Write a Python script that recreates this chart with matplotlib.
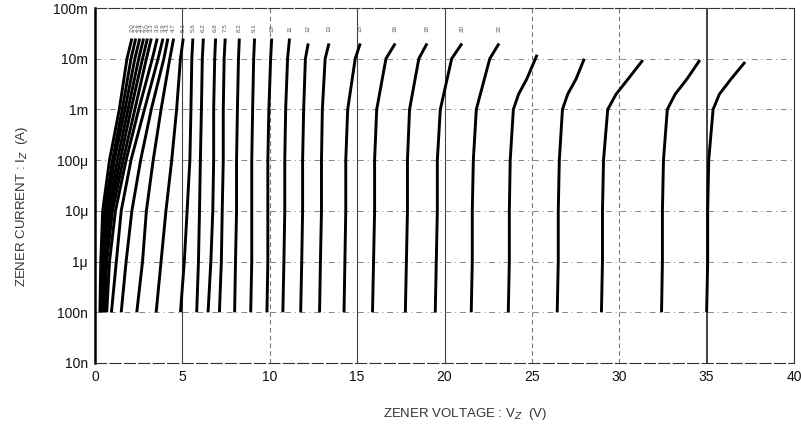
import matplotlib.pyplot as plt
import numpy as np

plt.rcParams['font.family'] = ['Liberation Sans', 'DejaVu Sans']

# nominal zener voltages (curve labels)
low_names = ['2.0', '2.2', '2.4', '2.7', '3.0', '3.3', '3.6', '3.9', '4.3', '4.7',
             '5.1', '5.6', '6.2', '6.8', '7.5', '8.2', '9.1', '10', '11', '12',
             '13', '15', '16', '18', '20', '22']
high_names = ['24', '27', '30', '33', '36']

# current levels (A) where voltage was read
low_levels = [1e-7, 1e-6, 1e-5, 1e-4, 1e-3, 1e-2]
high_levels = [1e-7, 1e-6, 1e-5, 1e-4, 1e-3, 2e-3, 4e-3]

# voltage read at each level, one row per curve
low_volts = [
    [0.28, 0.33, 0.44, 0.83, 1.39, 1.83],
    [0.33, 0.39, 0.56, 1.00, 1.56, 2.06],
    [0.39, 0.44, 0.67, 1.11, 1.72, 2.28],
    [0.44, 0.50, 0.78, 1.28, 1.89, 2.50],
    [0.50, 0.61, 0.89, 1.44, 2.06, 2.72],
    [0.56, 0.67, 1.00, 1.61, 2.28, 2.94],
    [0.67, 0.83, 1.17, 1.78, 2.50, 3.28],
    [0.94, 1.22, 1.50, 2.06, 2.83, 3.61],
    [1.50, 1.78, 2.11, 2.61, 3.22, 3.94],
    [2.39, 2.72, 2.94, 3.33, 3.78, 4.28],
    [3.50, 3.78, 4.06, 4.39, 4.67, 4.89],
    [4.89, 5.11, 5.27, 5.43, 5.49, 5.54],
    [5.82, 5.92, 5.98, 6.03, 6.09, 6.14],
    [6.47, 6.63, 6.74, 6.79, 6.79, 6.85],
    [7.12, 7.23, 7.28, 7.34, 7.34, 7.39],
    [7.99, 8.04, 8.10, 8.10, 8.15, 8.21],
    [8.91, 8.97, 8.97, 8.97, 9.02, 9.08],
    [9.84, 9.89, 9.89, 9.89, 9.95, 10.05],
    [10.75, 10.81, 10.86, 10.86, 10.91, 11.02],
    [11.77, 11.83, 11.88, 11.88, 11.94, 12.04],
    [12.85, 12.90, 12.96, 12.96, 13.01, 13.17],
    [14.25, 14.30, 14.35, 14.35, 14.46, 14.89],
    [15.88, 15.94, 16.00, 16.00, 16.12, 16.65],
    [17.76, 17.82, 17.88, 17.88, 18.00, 18.53],
    [19.47, 19.53, 19.59, 19.59, 19.76, 20.41],
    [21.53, 21.59, 21.59, 21.65, 21.82, 22.59],
]
low_top_v = [2.11, 2.33, 2.56, 2.78, 3.00, 3.22, 3.56, 3.89, 4.17, 4.50,
             5.05, 5.60, 6.20, 6.90, 7.45, 8.26, 9.13, 10.11, 11.13, 12.20,
             13.39, 15.18, 17.18, 19.00, 21.00, 23.12]
low_top_i = [25e-3] * 19 + [20e-3] * 7

high_volts = [
    [23.65, 23.71, 23.71, 23.76, 23.94, 24.24, 24.71],
    [26.45, 26.51, 26.51, 26.57, 26.75, 27.05, 27.53],
    [28.98, 29.04, 29.04, 29.10, 29.34, 29.82, 30.51],
    [32.42, 32.47, 32.47, 32.53, 32.75, 33.20, 33.88],
    [35.00, 35.06, 35.06, 35.12, 35.37, 35.73, 36.40],
]
high_top_v = [25.3, 28.0, 31.35, 34.61, 37.2]
high_top_i = [12e-3, 10e-3, 9.4e-3, 9.4e-3, 8.6e-3]

x_ticks = [0, 5, 10, 15, 20, 25, 30, 35, 40]
y_ticks = [1e-8, 1e-7, 1e-6, 1e-5, 1e-4, 1e-3, 1e-2, 1e-1]
y_tick_labels = ['10n', '100n', '1\u03bc', '10\u03bc', '100\u03bc', '1m', '10m', '100m']

fig = plt.figure(figsize=(8.01, 4.25), dpi=100)
ax = fig.add_axes([95 / 801, 1 - 363 / 425, 699 / 801, 355 / 425])

# grid like the scanned sheet
for xv in x_ticks[1:-1]:
    if xv in (10, 25, 30):
        ax.axvline(xv, color='#777777', lw=0.8, ls=(0, (4, 3)), zorder=1)
    elif xv == 35:
        ax.axvline(xv, color='#222222', lw=1.2, zorder=1)
    else:
        ax.axvline(xv, color='#444444', lw=0.8, zorder=1)
for yv in y_ticks[1:-1]:
    ax.axhline(yv, color='#888888', lw=0.7, ls=(0, (6, 4, 1, 4)), zorder=1)

for name, v, tv, ti in zip(low_names, low_volts, low_top_v, low_top_i):
    ax.plot(v + [tv], low_levels + [ti], color='black', lw=2.1,
            solid_joinstyle='round', solid_capstyle='butt', zorder=3)
    ax.text(tv, 3.3e-2, name, rotation=90, fontsize=4.5, color='#555555',
            ha='center', va='bottom')

for name, v, tv, ti in zip(high_names, high_volts, high_top_v, high_top_i):
    ax.plot(v + [tv], high_levels + [ti], color='black', lw=2.1,
            solid_joinstyle='round', solid_capstyle='butt', zorder=3)

ax.set_yscale('log')
ax.set_xlim(0, 40)
ax.set_ylim(1e-8, 1e-1)
ax.set_xticks(x_ticks)
ax.set_yticks(y_ticks)
ax.set_yticklabels(y_tick_labels)
ax.minorticks_off()
ax.tick_params(length=0, labelsize=10, colors='#111111', pad=5)

for side in ['top', 'bottom', 'right']:
    ax.spines[side].set_color('#333333')
    ax.spines[side].set_linewidth(0.8)
ax.spines['top'].set_linestyle((0, (10, 2)))
ax.spines['bottom'].set_linestyle((0, (10, 3)))
ax.spines['left'].set_linewidth(1.8)
ax.spines['left'].set_color('black')

ax.set_xlabel('ZENER VOLTAGE : V$_Z$  (V)', fontsize=9.5, color='#333333')
ax.set_ylabel('ZENER CURRENT : I$_Z$  (A)', fontsize=9.5, color='#333333')
ax.xaxis.set_label_coords(0.53, -0.12)
ax.yaxis.set_label_coords(-0.093, 0.44)

plt.savefig('out.png', dpi=100)
